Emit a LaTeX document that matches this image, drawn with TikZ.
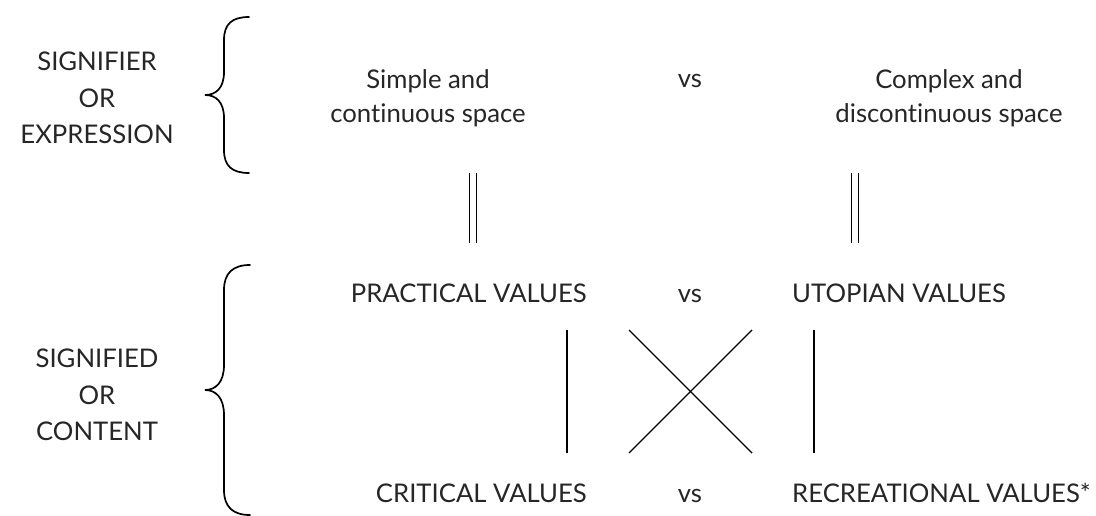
\documentclass[tikz,border=0pt]{standalone}
\usepackage{fontspec}
\setmainfont[Ligatures={NoCommon}]{Lato}
\usetikzlibrary{calc}

\tikzset{
  txt/.style={text=black!85, inner sep=0pt, font=\fontsize{25.7}{34}\selectfont},
  side/.style={txt, align=center, font=\fontsize{25.7}{36.5}\selectfont},
  pair/.style={txt, align=center},
  eqline/.style={double, double distance=5.6pt, line width=1.5pt},
  link/.style={line width=1.4pt},
  brace/.style={line width=1.7pt, line cap=round}
}

\begin{document}
\begin{tikzpicture}[x=1pt, y=-1pt]

% white background
\fill[white] (0,0) rectangle (1096,516);
\useasboundingbox (0,0) rectangle (1096,516);

% left hand labels
\node[side] (sigr) at (97,98) {SIGNIFIER\\OR\\EXPRESSION};
\node[side] (sigd) at (97,395) {SIGNIFIED\\OR\\CONTENT};

% curly braces
\draw[brace] (249,17) .. controls (232,17) and (224,24) .. (224,40)
    -- (224,72) .. controls (224,88) and (216,95) .. (205,95)
    .. controls (216,95) and (224,102) .. (224,118)
    -- (224,150) .. controls (224,166) and (232,173) .. (249,173);
\draw[brace] (250,265) .. controls (233,265) and (224,273) .. (224,290)
    -- (224,365) .. controls (224,382) and (216,390) .. (205,390)
    .. controls (216,390) and (224,398) .. (224,415)
    -- (224,490) .. controls (224,507) and (233,515) .. (250,515);

% expression
\node[pair] (simple) at (428,98) {Simple and\\continuous space};
\node[txt, anchor=base] (vs1) at (690,88) {vs};
\node[pair] (complex) at (949,98) {Complex and\\discontinuous space};

% content
\node[txt, anchor=base east] (prac) at (587,302) {PRACTICAL VALUES};
\node[txt, anchor=base] (vs2) at (690,302) {vs};
\node[txt, anchor=base west] (utop) at (792,302) {UTOPIAN VALUES};

\node[txt, anchor=base east] (crit) at (587,502) {CRITICAL VALUES};
\node[txt, anchor=base] (vs3) at (690,502) {vs};
\node[txt, anchor=base west] (recr) at (792,502) {RECREATIONAL VALUES*};

% equivalences
\coordinate (eqa) at (473,173);
\coordinate (eqb) at (473,243);
\coordinate (eqc) at (855,173);
\coordinate (eqd) at (855,243);
\draw[eqline] (eqa) -- (eqb);
\draw[eqline] (eqc) -- (eqd);

% square of oppositions
\coordinate (pl) at (567,330);
\coordinate (cl) at (567,453);
\coordinate (ur) at (814,330);
\coordinate (rr) at (814,453);
\coordinate (xa) at (629,330);
\coordinate (xb) at (752,453);
\coordinate (xc) at (752,330);
\coordinate (xd) at (629,453);
\draw[link] (pl) -- (cl);
\draw[link] (ur) -- (rr);
\draw[link] (xa) -- (xb);
\draw[link] (xc) -- (xd);

\end{tikzpicture}
\end{document}
